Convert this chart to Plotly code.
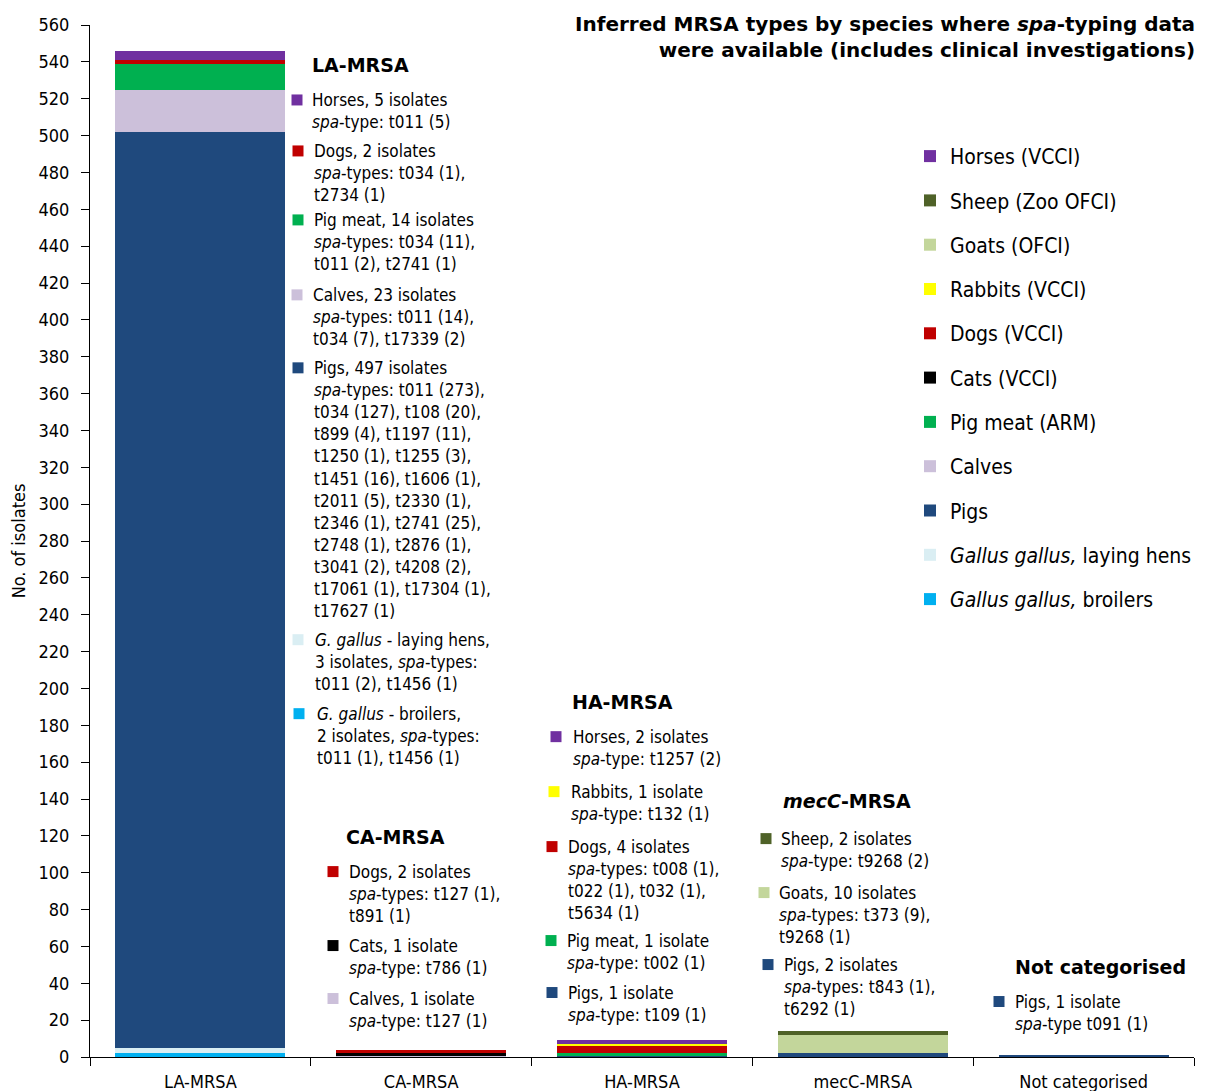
import plotly.graph_objects as go

# MRSA type categories on the x axis
categories = ['LA-MRSA', 'CA-MRSA', 'HA-MRSA', 'mecC-MRSA', 'Not categorised']

# isolates per species, stacked bottom -> top
broilers = [2, 0, 0, 0, 0]
laying_hens = [3, 0, 0, 0, 0]
pigs = [497, 0, 1, 2, 1]
calves = [23, 1, 0, 0, 0]
pig_meat = [14, 0, 1, 0, 0]
cats = [0, 1, 0, 0, 0]
dogs = [2, 2, 4, 0, 0]
rabbits = [0, 0, 1, 0, 0]
goats = [0, 0, 0, 10, 0]
sheep = [0, 0, 0, 2, 0]
horses = [5, 0, 2, 0, 0]

series = [
    ('<i>Gallus gallus,</i> broilers', broilers, '#00B0F0'),
    ('<i>Gallus gallus,</i> laying hens', laying_hens, '#DAEEF3'),
    ('Pigs', pigs, '#1F497D'),
    ('Calves', calves, '#CCC0DA'),
    ('Pig meat (ARM)', pig_meat, '#00B050'),
    ('Cats (VCCI)', cats, '#000000'),
    ('Dogs (VCCI)', dogs, '#C00000'),
    ('Rabbits (VCCI)', rabbits, '#FFFF00'),
    ('Goats (OFCI)', goats, '#C3D69B'),
    ('Sheep (Zoo OFCI)', sheep, '#4F6228'),
    ('Horses (VCCI)', horses, '#7030A0'),
]

FONT = 'DejaVu Sans Condensed, DejaVu Sans, sans-serif'
BOLD_FONT = 'DejaVu Sans, sans-serif'
# page body adds an 8px offset, so the figure is sized to the visible window
OFF = 8
W, H = 1197, 1083
L, R, T, B = 82, 11, 17, 33.5


def px(x):
    return (x - OFF - L) / (W - L - R)


def py(y):
    return (H - B - (y - OFF)) / (H - T - B)


fig = go.Figure()
for i, (name, vals, col) in enumerate(series):
    fig.add_trace(go.Bar(
        name=name, x=categories, y=vals, width=0.77,
        marker=dict(color=col, line=dict(width=0)),
        legendgroup=str(i), legendrank=len(series) - i,
    ))

# annotation blocks: (header, header_x, header_y, [(colour, marker_x, marker_y, text_x, text)])
SPA = '<i>spa</i>'
blocks = [
    ('LA-MRSA', 311, 65, [
        ('#7030A0', 297, 100, 311, f'Horses, 5 isolates<br>{SPA}-type: t011 (5)'),
        ('#C00000', 298, 151, 313, f'Dogs, 2 isolates<br>{SPA}-types: t034 (1),<br>t2734 (1)'),
        ('#00B050', 298, 220, 313, f'Pig meat, 14 isolates<br>{SPA}-types: t034 (11),<br>t011 (2), t2741 (1)'),
        ('#CCC0DA', 297, 295, 312, f'Calves, 23 isolates<br>{SPA}-types: t011 (14),<br>t034 (7), t17339 (2)'),
        ('#1F497D', 298, 368, 313,
         f'Pigs, 497 isolates<br>{SPA}-types: t011 (273),<br>t034 (127), t108 (20),<br>t899 (4), t1197 (11),<br>'
         't1250 (1), t1255 (3),<br>t1451 (16), t1606 (1),<br>t2011 (5), t2330 (1),<br>t2346 (1), t2741 (25),<br>'
         't2748 (1), t2876 (1),<br>t3041 (2), t4208 (2),<br>t17061 (1), t17304 (1),<br>t17627 (1)'),
        ('#DAEEF3', 298, 640, 314, f'<i>G. gallus</i> - laying hens,<br>3 isolates, {SPA}-types:<br>t011 (2), t1456 (1)'),
        ('#00B0F0', 299, 714, 316, f'<i>G. gallus</i> - broilers,<br>2 isolates, {SPA}-types:<br>t011 (1), t1456 (1)'),
    ]),
    ('CA-MRSA', 345, 837, [
        ('#C00000', 333, 872, 348, f'Dogs, 2 isolates<br>{SPA}-types: t127 (1),<br>t891 (1)'),
        ('#000000', 333, 946, 348, f'Cats, 1 isolate<br>{SPA}-type: t786 (1)'),
        ('#CCC0DA', 333, 999, 348, f'Calves, 1 isolate<br>{SPA}-type: t127 (1)'),
    ]),
    ('HA-MRSA', 571, 702, [
        ('#7030A0', 556, 737, 572, f'Horses, 2 isolates<br>{SPA}-type: t1257 (2)'),
        ('#FFFF00', 554, 792, 570, f'Rabbits, 1 isolate<br>{SPA}-type: t132 (1)'),
        ('#C00000', 552, 847, 567, f'Dogs, 4 isolates<br>{SPA}-types: t008 (1),<br>t022 (1), t032 (1),<br>t5634 (1)'),
        ('#00B050', 551, 941, 566, f'Pig meat, 1 isolate<br>{SPA}-type: t002 (1)'),
        ('#1F497D', 552, 993, 567, f'Pigs, 1 isolate<br>{SPA}-type: t109 (1)'),
    ]),
    ('<i>mecC</i>-MRSA', 782, 801, [
        ('#4F6228', 766, 839, 780, f'Sheep, 2 isolates<br>{SPA}-type: t9268 (2)'),
        ('#C3D69B', 764, 893, 778, f'Goats, 10 isolates<br>{SPA}-types: t373 (9),<br>t9268 (1)'),
        ('#1F497D', 768, 965, 783, f'Pigs, 2 isolates<br>{SPA}-types: t843 (1),<br>t6292 (1)'),
    ]),
    ('Not categorised', 1014, 967, [
        ('#1F497D', 999, 1002, 1014, f'Pigs, 1 isolate<br>{SPA}-type t091 (1)'),
    ]),
]

FS = 17
for header, hx, hy, items in blocks:
    fig.add_annotation(xref='paper', yref='paper', x=px(hx - 1), y=py(hy),
                       xanchor='left', yanchor='middle', showarrow=False,
                       text=f'<b>{header}</b>', font=dict(family=BOLD_FONT, size=19, color='black'))
    for col, mx, my, tx, txt in items:
        fig.add_shape(type='rect', xref='paper', yref='paper',
                      x0=px(mx - 5.5), x1=px(mx + 5.5), y0=py(my - 5.5), y1=py(my + 5.5),
                      fillcolor=col, line=dict(width=0))
        fig.add_annotation(xref='paper', yref='paper', x=px(tx - 1), y=py(my - 12),
                           xanchor='left', yanchor='top', align='left', showarrow=False,
                           text=txt, font=dict(family=FONT, size=FS, color='black'))

fig.add_annotation(xref='paper', yref='paper', x=px(1197), y=py(10),
                   xanchor='right', yanchor='top', align='right', showarrow=False,
                   text='<b>Inferred MRSA types by species where <i>spa</i>-typing data<br>'
                        'were available (includes clinical investigations)</b>',
                   font=dict(family=BOLD_FONT, size=20, color='black'))

fig.update_layout(
    width=W, height=H,
    barmode='stack',
    plot_bgcolor='white',
    paper_bgcolor='white',
    margin=dict(l=L, r=R, t=T, b=B, autoexpand=False),
    font=dict(family=FONT, size=17, color='black'),
    showlegend=True,
    legend=dict(
        x=px(910), y=py(136), xanchor='left', yanchor='top',
        traceorder='grouped', tracegroupgap=14,
        font=dict(family=FONT, size=21, color='black'),
        bgcolor='rgba(0,0,0,0)',
    ),
    xaxis=dict(
        showline=True, linecolor='black', linewidth=1, automargin=False,
        ticks='outside', tickson='boundaries', ticklen=8, tickcolor='black',
        showgrid=False, tickfont=dict(size=18), ticklabelstandoff=8,
    ),
    yaxis=dict(
        range=[0, 560], dtick=20, showline=True, linecolor='black', linewidth=1,
        automargin=False,
        ticks='outside', ticklen=8, tickcolor='black', showgrid=False, zeroline=False,
        title=dict(text='No. of isolates', font=dict(size=18), standoff=12),
        tickfont=dict(size=18), ticklabelstandoff=8,
    ),
)

fig.write_html('out.html')
